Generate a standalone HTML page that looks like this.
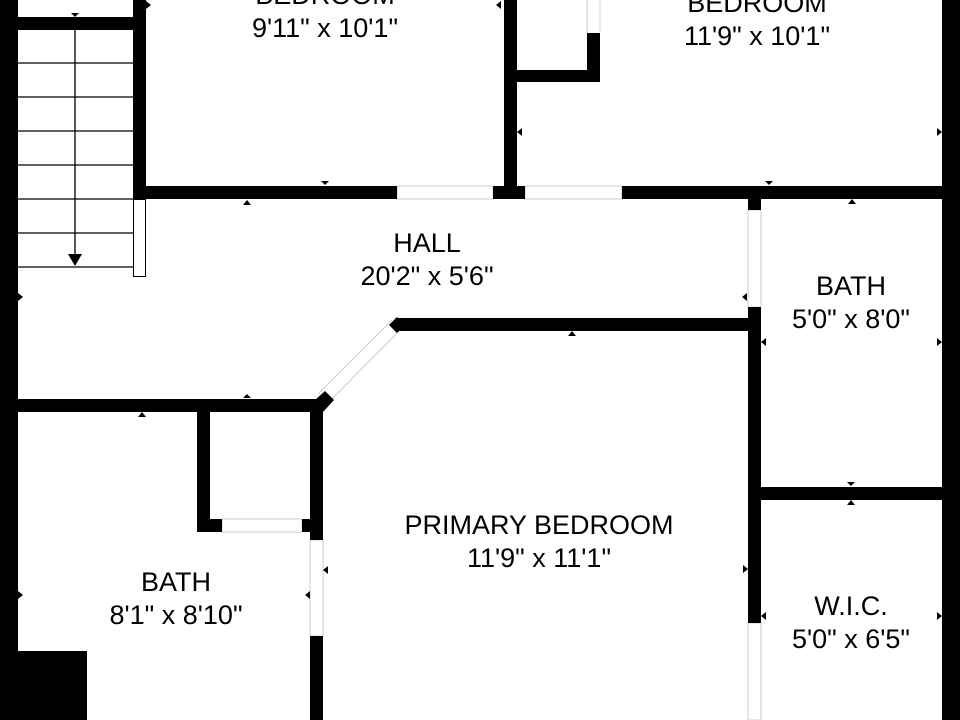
<!DOCTYPE html>
<html><head><meta charset="utf-8"><style>html,body{margin:0;padding:0;background:#fff}svg{display:block}</style></head>
<body>
<svg width="960" height="720" viewBox="0 0 960 720" xmlns="http://www.w3.org/2000/svg" font-family="Liberation Sans, Arial, sans-serif">
<rect width="960" height="720" fill="#fff"/>
<!-- stairs -->
<g stroke="#000" stroke-width="1.3">
<line x1="18" y1="63" x2="133" y2="63"/><line x1="18" y1="97" x2="133" y2="97"/>
<line x1="18" y1="131" x2="133" y2="131"/><line x1="18" y1="165" x2="133" y2="165"/>
<line x1="18" y1="199" x2="133" y2="199"/><line x1="18" y1="233" x2="133" y2="233"/>
<line x1="18" y1="267" x2="133" y2="267"/>
<line x1="75" y1="30" x2="75" y2="256"/>
</g>
<polygon points="68,254 82,254 75,266" fill="#000"/>
<rect x="133.5" y="199.5" width="12" height="77" fill="#fff" stroke="#000" stroke-width="1"/>
<!-- thin door lines -->
<g fill="none" stroke="#ccc" stroke-width="1">
<rect x="397" y="186" width="96" height="13"/>
<rect x="525" y="186" width="97" height="13"/>
<rect x="748" y="210" width="13" height="97"/>
<rect x="748" y="623" width="13" height="97"/>
<rect x="310" y="540" width="13" height="96"/>
<rect x="222" y="519" width="80" height="13"/>
<line x1="587" y1="0" x2="587" y2="33"/><line x1="600" y1="0" x2="600" y2="33"/>
<line x1="392" y1="320" x2="318" y2="394"/><line x1="401" y1="329" x2="328" y2="403"/>
</g>
<!-- walls -->
<g fill="#000">
<rect x="0" y="0" width="18" height="720"/>
<rect x="18" y="17" width="115" height="13"/>
<rect x="133" y="0" width="13" height="199"/>
<rect x="133" y="186" width="264" height="13"/>
<rect x="504" y="0" width="13" height="186"/>
<rect x="493" y="186" width="32" height="13"/>
<rect x="517" y="70" width="83" height="12"/>
<rect x="587" y="33" width="13" height="49"/>
<rect x="622" y="186" width="320" height="13"/>
<rect x="942" y="0" width="18" height="720"/>
<rect x="748" y="199" width="13" height="11"/>
<rect x="748" y="307" width="13" height="316"/>
<rect x="397" y="318" width="364" height="13"/>
<polygon points="389,325 397,317 405,325 397,333"/>
<rect x="761" y="487" width="181" height="13"/>
<rect x="18" y="399" width="305" height="13"/>
<polygon points="315,400 325,391 334,400 323,412"/>
<rect x="310" y="399" width="13" height="141"/>
<rect x="310" y="636" width="13" height="84"/>
<rect x="197" y="412" width="13" height="120"/>
<rect x="197" y="519" width="25" height="13"/>
<rect x="302" y="519" width="8" height="13"/>
<rect x="18" y="651" width="69" height="69"/>
</g>
<!-- markers -->
<g fill="#000">
<polygon points="71,13 79,13 75,17"/>
<polygon points="321,181 329,181 325,185"/>
<polygon points="243,205 251,205 247,200"/>
<polygon points="765,181 773,181 769,185"/>
<polygon points="848,204 856,204 852,199"/>
<polygon points="18,293 23,297 18,301"/>
<polygon points="747,293 742,297 747,301"/>
<polygon points="522,128 517,132 522,136"/>
<polygon points="937,128 942,132 937,136"/>
<polygon points="766,338 761,342 766,346"/>
<polygon points="937,338 942,342 937,346"/>
<polygon points="568,336 576,336 572,331"/>
<polygon points="243,398 251,398 247,394"/>
<polygon points="138,417 146,417 142,412"/>
<polygon points="847,482 855,482 851,486"/>
<polygon points="847,505 855,505 851,500"/>
<polygon points="18,591 23,595 18,599"/>
<polygon points="310,591 305,595 310,599"/>
<polygon points="328,566 323,570 328,574"/>
<polygon points="743,565 748,569 743,573"/>
<polygon points="766,612 761,616 766,620"/>
<polygon points="937,612 942,616 937,620"/>
<polygon points="146,1 151,5 146,9"/>
<polygon points="501,1 496,5 501,9"/>
</g>
<!-- labels -->
<g font-size="27" text-anchor="middle" fill="#000">
<text x="325" y="4">BEDROOM</text>
<text x="325" y="37">9'11" x 10'1"</text>
<text x="757" y="12">BEDROOM</text>
<text x="757" y="45">11'9" x 10'1"</text>
<text x="427" y="252">HALL</text>
<text x="427" y="285">20'2" x 5'6"</text>
<text x="851" y="295">BATH</text>
<text x="851" y="328">5'0" x 8'0"</text>
<text x="539" y="534">PRIMARY BEDROOM</text>
<text x="539" y="567">11'9" x 11'1"</text>
<text x="176" y="591">BATH</text>
<text x="176" y="624">8'1" x 8'10"</text>
<text x="851" y="615">W.I.C.</text>
<text x="851" y="648">5'0" x 6'5"</text>
</g>
</svg>
</body></html>
